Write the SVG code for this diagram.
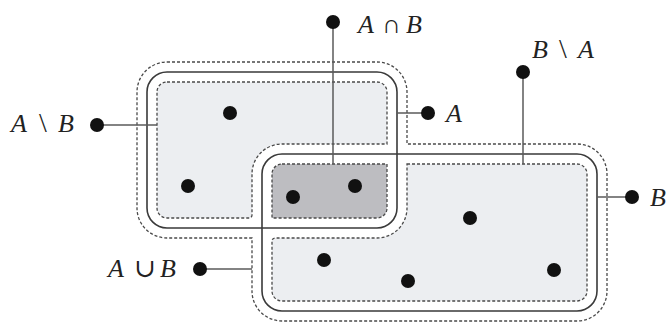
<svg xmlns="http://www.w3.org/2000/svg" width="666" height="323" viewBox="0 0 666 323">
<style>
.bg{fill:#ffffff}
.region{fill:#eceef1;stroke:#4a4a4a;stroke-width:1.3;stroke-dasharray:3 2}
.inter{fill:#bdbdc1;stroke:#4a4a4a;stroke-width:1.3;stroke-dasharray:3 2}
.outline{fill:none;stroke:#4a4a4a;stroke-width:1.3;stroke-dasharray:3 2}
.set{fill:none;stroke:#3a3a3a;stroke-width:1.6}
.conn{stroke:#5a5a5a;stroke-width:1.5;fill:none}
.dot{fill:#111111}
text{font-family:"Liberation Serif","DejaVu Serif",serif;font-size:26px;fill:#222222}
.it{font-style:italic}
.op{font-size:28px}
</style>
<rect class="bg" x="0" y="0" width="666" height="323"/>
<g id="union">
<path class="outline" d="M167,62 H377 A30 30 0 0 1 407,92 V144 H577 A30 30 0 0 1 607,174 V291 A30 30 0 0 1 577,321 H282 A30 30 0 0 1 252,291 V238 H167 A30 30 0 0 1 137,208 V92 A30 30 0 0 1 167,62 Z"/>
</g>
<g id="AminusB">
<path class="region" d="M167,82 H377 A10 10 0 0 1 387,92 V144 H282 A30 30 0 0 0 252,174 V215 A3 3 0 0 1 249,218 H167 A10 10 0 0 1 157,208 V92 A10 10 0 0 1 167,82 Z"/>
</g>
<g id="BminusA">
<path class="region" d="M407,164 H577 A10 10 0 0 1 587,174 V291 A10 10 0 0 1 577,301 H282 A10 10 0 0 1 272,291 V241 A3 3 0 0 1 275,238 H377 A30 30 0 0 0 407,208 Z"/>
</g>
<g id="AcapB">
<path class="inter" d="M282,164 H387 V208 A10 10 0 0 1 377,218 H272 V174 A10 10 0 0 1 282,164 Z"/>
</g>
<g id="A">
<rect class="set" x="147" y="72" width="250" height="156" rx="20" ry="20"/>
</g>
<g id="B">
<rect class="set" x="262" y="154" width="335" height="157" rx="20" ry="20"/>
</g>
<g id="connectors">
<line class="conn" x1="333" y1="22" x2="333" y2="164"/>
<line class="conn" x1="523" y1="72" x2="523" y2="164"/>
<line class="conn" x1="397" y1="113" x2="428" y2="113"/>
<line class="conn" x1="97" y1="125" x2="157" y2="125"/>
<line class="conn" x1="597" y1="197" x2="632" y2="197"/>
<line class="conn" x1="200" y1="269" x2="252" y2="269"/>
</g>
<g id="elements">
<circle class="dot" cx="230" cy="113" r="7"/>
<circle class="dot" cx="188" cy="186" r="7"/>
<circle class="dot" cx="293" cy="197" r="7"/>
<circle class="dot" cx="355" cy="186" r="7"/>
<circle class="dot" cx="470" cy="218" r="7"/>
<circle class="dot" cx="324" cy="260" r="7"/>
<circle class="dot" cx="408" cy="281" r="7"/>
<circle class="dot" cx="554" cy="270" r="7"/>
</g>
<g id="label-AcapB">
<circle class="dot" cx="333" cy="22" r="7"/>
<text y="33"><tspan class="it" x="358">A</tspan><tspan x="382">∩</tspan><tspan class="it" x="406">B</tspan></text>
</g>
<g id="label-BminusA">
<circle class="dot" cx="523" cy="72" r="7"/>
<text y="58"><tspan class="it" x="532">B</tspan><tspan class="op" x="559">\</tspan><tspan class="it" x="578">A</tspan></text>
</g>
<g id="label-A">
<circle class="dot" cx="428" cy="113" r="7"/>
<text class="it" x="446" y="122">A</text>
</g>
<g id="label-AminusB">
<circle class="dot" cx="97" cy="125" r="7"/>
<text y="132"><tspan class="it" x="11">A</tspan><tspan class="op" x="39">\</tspan><tspan class="it" x="58">B</tspan></text>
</g>
<g id="label-B">
<circle class="dot" cx="632" cy="197" r="7"/>
<text class="it" x="650" y="206">B</text>
</g>
<g id="label-AcupB">
<circle class="dot" cx="200" cy="269" r="7"/>
<text y="277"><tspan class="it" x="108">A</tspan><tspan x="134">∪</tspan><tspan class="it" x="160">B</tspan></text>
</g>
</svg>
